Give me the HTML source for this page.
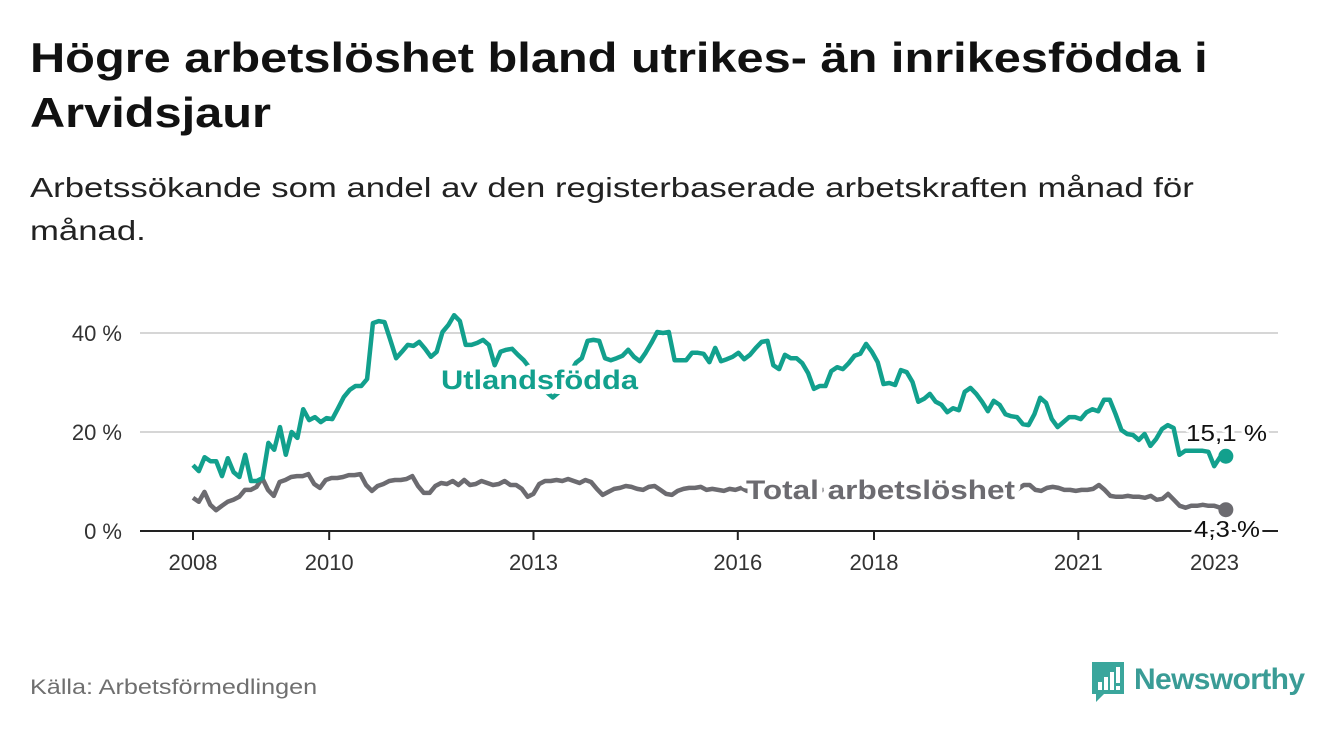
<!DOCTYPE html>
<html><head><meta charset="utf-8">
<style>
html,body{margin:0;padding:0;background:#fff;}
body{width:1340px;height:734px;position:relative;overflow:hidden;font-family:"Liberation Sans",sans-serif;color:#111;}
#title{position:absolute;left:30px;top:30px;font-size:42px;font-weight:bold;line-height:55px;margin:0;transform:scaleX(1.16);transform-origin:left top;white-space:nowrap;}
#subtitle{position:absolute;left:30px;top:166px;font-size:28px;line-height:43px;color:#222;transform:scaleX(1.24);transform-origin:left top;white-space:nowrap;}
#source{position:absolute;left:30px;top:676px;font-size:21px;color:#6f6f6f;transform:scaleX(1.2);transform-origin:left top;white-space:nowrap;}
#logo{position:absolute;left:1090px;top:660px;}
</style></head>
<body>
<h1 id="title">Högre arbetslöshet bland utrikes- än inrikesfödda i<br>Arvidsjaur</h1>
<div id="subtitle">Arbetssökande som andel av den registerbaserade arbetskraften månad för<br>månad.</div>
<svg id="chart" width="1340" height="734" style="position:absolute;left:0;top:0" xmlns="http://www.w3.org/2000/svg"></svg>
<div id="source">Källa: Arbetsförmedlingen</div>
<div id="logo">
<svg width="220" height="44" xmlns="http://www.w3.org/2000/svg">
<path d="M2 2 H34 V34 H14 L6 42 V34 H2 Z" fill="#3aa69c"/>
<rect x="8" y="22" width="4" height="8" fill="#fff"/><rect x="14" y="17" width="4" height="13" fill="#fff"/><rect x="20" y="12" width="4" height="18" fill="#fff"/><rect x="26" y="7" width="4" height="16" fill="#fff"/><rect x="26" y="26" width="4" height="4" fill="#fff"/>
<text x="44" y="29" font-family="Liberation Sans, sans-serif" font-size="30" font-weight="bold" fill="#3a9c96" textLength="171">Newsworthy</text>
</svg></div>
<script>
const yTicks=[0,20,40];
const yTickLabels=["0 %","20 %","40 %"];
const xTickYears=[2008,2010,2013,2016,2018,2021,2023];
const startYear=2008, endMonthIndex=182;
const foreignBorn=[13.3,12.1,14.9,14.1,14.1,11.1,14.7,11.9,10.9,15.4,10.1,10.1,10.7,17.8,16.4,21.0,15.4,20.0,18.8,24.6,22.4,23.0,22.0,22.8,22.6,24.8,27.1,28.5,29.3,29.3,30.7,42.0,42.4,42.2,38.6,34.9,36.2,37.6,37.4,38.2,36.8,35.2,36.2,40.2,41.6,43.6,42.4,37.6,37.6,38.0,38.6,37.6,33.5,36.2,36.6,36.8,35.6,34.5,33,31,29,28,27,28,30,32,34,34.9,38.4,38.6,38.4,34.9,34.5,34.9,35.4,36.6,35.2,34.3,36.0,38.0,40.2,40.0,40.2,34.5,34.5,34.5,36.0,36.0,35.8,34.1,37.0,34.3,34.7,35.2,36.0,34.7,35.6,37.0,38.2,38.4,33.5,32.7,35.6,34.9,34.9,33.9,31.9,28.7,29.3,29.3,32.3,33.1,32.7,33.9,35.4,35.8,37.8,36.2,34.1,29.7,29.9,29.5,32.5,32.1,30.1,26.1,26.7,27.7,26.1,25.5,24.0,24.8,24.4,28.1,28.9,27.7,26.1,24.2,26.3,25.5,23.6,23.2,23.0,21.6,21.4,23.6,26.9,25.9,22.6,21.0,22.0,23.0,23.0,22.6,24.0,24.6,24.2,26.5,26.5,23.6,20.4,19.6,19.4,18.4,19.6,17.2,18.6,20.6,21.4,20.8,15.4,16.2,16.2,16.2,16.2,16.0,13.1,14.9,15.1];
const total=[6.7,5.9,7.9,5.3,4.2,5.1,5.9,6.3,6.9,8.3,8.3,8.9,10.7,8.3,7.1,9.9,10.3,10.9,11.1,11.1,11.5,9.5,8.7,10.3,10.7,10.7,10.9,11.3,11.3,11.5,9.3,8.1,9.1,9.5,10.1,10.3,10.3,10.5,11.1,9.1,7.7,7.7,9.1,9.7,9.5,10.1,9.3,10.3,9.3,9.5,10.1,9.7,9.3,9.5,10.1,9.3,9.3,8.5,6.9,7.5,9.5,10.1,10.1,10.3,10.1,10.5,10.1,9.7,10.3,9.9,8.5,7.3,7.9,8.5,8.7,9.1,8.9,8.5,8.3,8.9,9.1,8.3,7.5,7.3,8.1,8.5,8.7,8.7,8.9,8.3,8.5,8.3,8.1,8.5,8.3,8.7,8.1,7.9,8.3,8.5,8.1,7.7,7.9,8.3,8.5,8.9,8.5,8.1,7.9,8.3,8.1,7.7,7.5,7.9,8.1,8.3,7.9,7.5,7.3,7.7,8.1,8.3,7.9,7.5,7.3,7.1,7.5,7.9,8.1,7.7,7.3,7.1,7.5,7.9,8.3,8.1,7.7,7.5,7.9,8.3,8.5,8.3,8.1,8.5,9.3,9.3,8.3,8.1,8.7,8.9,8.7,8.3,8.3,8.1,8.3,8.3,8.5,9.3,8.3,7.1,6.9,6.9,7.1,6.9,6.9,6.7,7.1,6.3,6.5,7.5,6.3,5.1,4.7,5.1,5.1,5.3,5.1,5.1,4.7,4.3];
const X0=193, pxPerYear=68.1, Y0=531, pxPerPct=4.95;
function xScale(m){return X0+m*pxPerYear/12;}
function yScale(v){return Y0-v*pxPerPct;}
const svg=document.getElementById('chart');
const NS='http://www.w3.org/2000/svg';
function el(t,a){const e=document.createElementNS(NS,t);for(const k in a)e.setAttribute(k,a[k]);svg.appendChild(e);return e;}
yTicks.forEach((v,i)=>{
  if(v>0){const g=el('line',{x1:140,x2:1278,y1:yScale(v),y2:yScale(v),stroke:'#d6d6d6','stroke-width':2});
  
  }
  const t=el('text',{x:122,y:yScale(v)+8,'text-anchor':'end','font-size':22,fill:'#333','font-family':'Liberation Sans, sans-serif'});
  t.textContent=yTickLabels[i];
  
  
});
xTickYears.forEach(y=>{
  const x=xScale((y-startYear)*12);
  const tk=el('line',{x1:x,x2:x,y1:Y0,y2:Y0+9,stroke:'#222','stroke-width':2});
  
  
  const t=el('text',{x:x,y:570,'text-anchor':'middle','font-size':22,fill:'#333','font-family':'Liberation Sans, sans-serif'});
  t.textContent=y;
  
  
});
function drawSeries(vals,color,name){
  const n=vals.length;
  const pts=vals.map((v,i)=>xScale(i*endMonthIndex/(n-1)).toFixed(1)+','+yScale(v).toFixed(1)).join(' ');
  const p=el('polyline',{points:pts,fill:'none',stroke:color,'stroke-width':4.5,'stroke-linejoin':'round'});
  
  
  const d=el('circle',{cx:xScale(endMonthIndex),cy:yScale(vals[n-1]),r:7.5,fill:color});
  
  
}
drawSeries(total,'#6c6b70','total');
drawSeries(foreignBorn,'#12a08d','foreign-born');
const ax=el('line',{x1:140,x2:1278,y1:Y0,y2:Y0,stroke:'#222','stroke-width':2});


function label(txt,x,y,color,name,size,weight,len){
  const t=el('text',{x:x,y:y,'font-size':size,'font-weight':weight,fill:color,'font-family':'Liberation Sans, sans-serif',stroke:'#fff','stroke-width':weight==='bold'?10:6,'paint-order':'stroke','stroke-linejoin':'round',textLength:len,lengthAdjust:'spacingAndGlyphs'});
  t.textContent=txt;
  
  
}
label('Utlandsfödda',441,389,'#12a08d','foreign-born-label',27,'bold',197);
label('Total arbetslöshet',746,499,'#6c6b70','total-label',27,'bold',269);
label(String(foreignBorn[foreignBorn.length-1]).replace('.',',')+' %',1186,441,'#111','foreign-born-end-label',23,'normal',81);
label(String(total[total.length-1]).replace('.',',')+' %',1194,537,'#111','total-end-label',23,'normal',66);
</script>
</body></html>
